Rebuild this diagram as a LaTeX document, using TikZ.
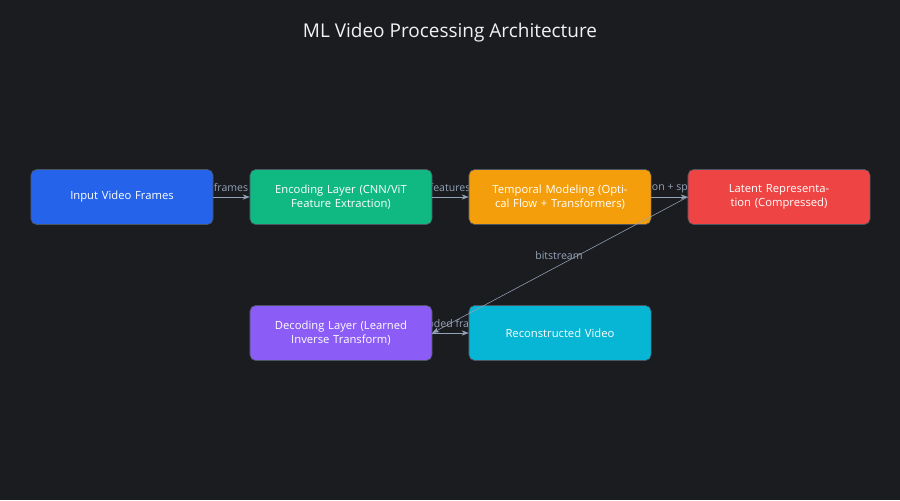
\documentclass[tikz,border=0pt]{standalone}
\usepackage{fontspec}
\setmainfont{Open Sans}
\usepackage{xcolor}
\usetikzlibrary{arrows.meta,positioning}
\definecolor{bgdark}{HTML}{1B1C20}
\definecolor{edgegray}{HTML}{94A3B8}
\definecolor{boxline}{HTML}{4B5563}
\definecolor{cblue}{HTML}{2563EB}
\definecolor{cgreen}{HTML}{10B981}
\definecolor{corange}{HTML}{F59E0B}
\definecolor{cred}{HTML}{EF4444}
\definecolor{cpurple}{HTML}{8B5CF6}
\definecolor{ccyan}{HTML}{06B6D4}
\begin{document}
\begin{tikzpicture}[x=0.025cm,y=-0.025cm,
  box/.style={draw=boxline,rounded corners=4pt,minimum width=4.55cm,minimum height=1.375cm,
    text width=4.1cm,align=center,text=white,font=\fontsize{8}{10}\selectfont},
  flow/.style={draw=edgegray,-{Stealth[length=5pt]},thin},
  lbl/.style={text=edgegray,font=\fontsize{7.5}{9}\selectfont}]
  \fill[bgdark] (0,0) rectangle (900,500);
  \node[text=white!90!gray,font=\fontsize{13.5}{16}\selectfont] (title) at (450,33) {ML Video Processing Architecture};

  % edge labels first, so the boxes cover them
  \node[lbl] at (231,188) {frames};
  \node[lbl] at (450,188) {features};
  \node[lbl] at (669,188) {motion + spatial};
  \node[lbl] at (559,256) {bitstream};
  \node[lbl] at (450,324) {decoded frames};

  \node[box,fill=cblue]   (input)  at (122,197) {Input Video Frames};
  \node[box,fill=cgreen]  (encode) at (341,197) {Encoding Layer (CNN/ViT Feature Extraction)};
  \node[box,fill=corange] (temporal) at (560,197) {Temporal Modeling (Optical Flow + Transformers)};
  \node[box,fill=cred]    (latent) at (779,197) {Latent Representation (Compressed)};
  \node[box,fill=cpurple] (decode) at (341,333) {Decoding Layer (Learned Inverse Transform)};
  \node[box,fill=ccyan]   (recon)  at (560,333) {Reconstructed Video};

  \draw[flow] (input) -- (encode);
  \draw[flow] (encode) -- (temporal);
  \draw[flow] (temporal) -- (latent);
  \draw[flow] (latent.west) -- (decode.east);
  \draw[flow] (decode) -- (recon);
\end{tikzpicture}
\end{document}
